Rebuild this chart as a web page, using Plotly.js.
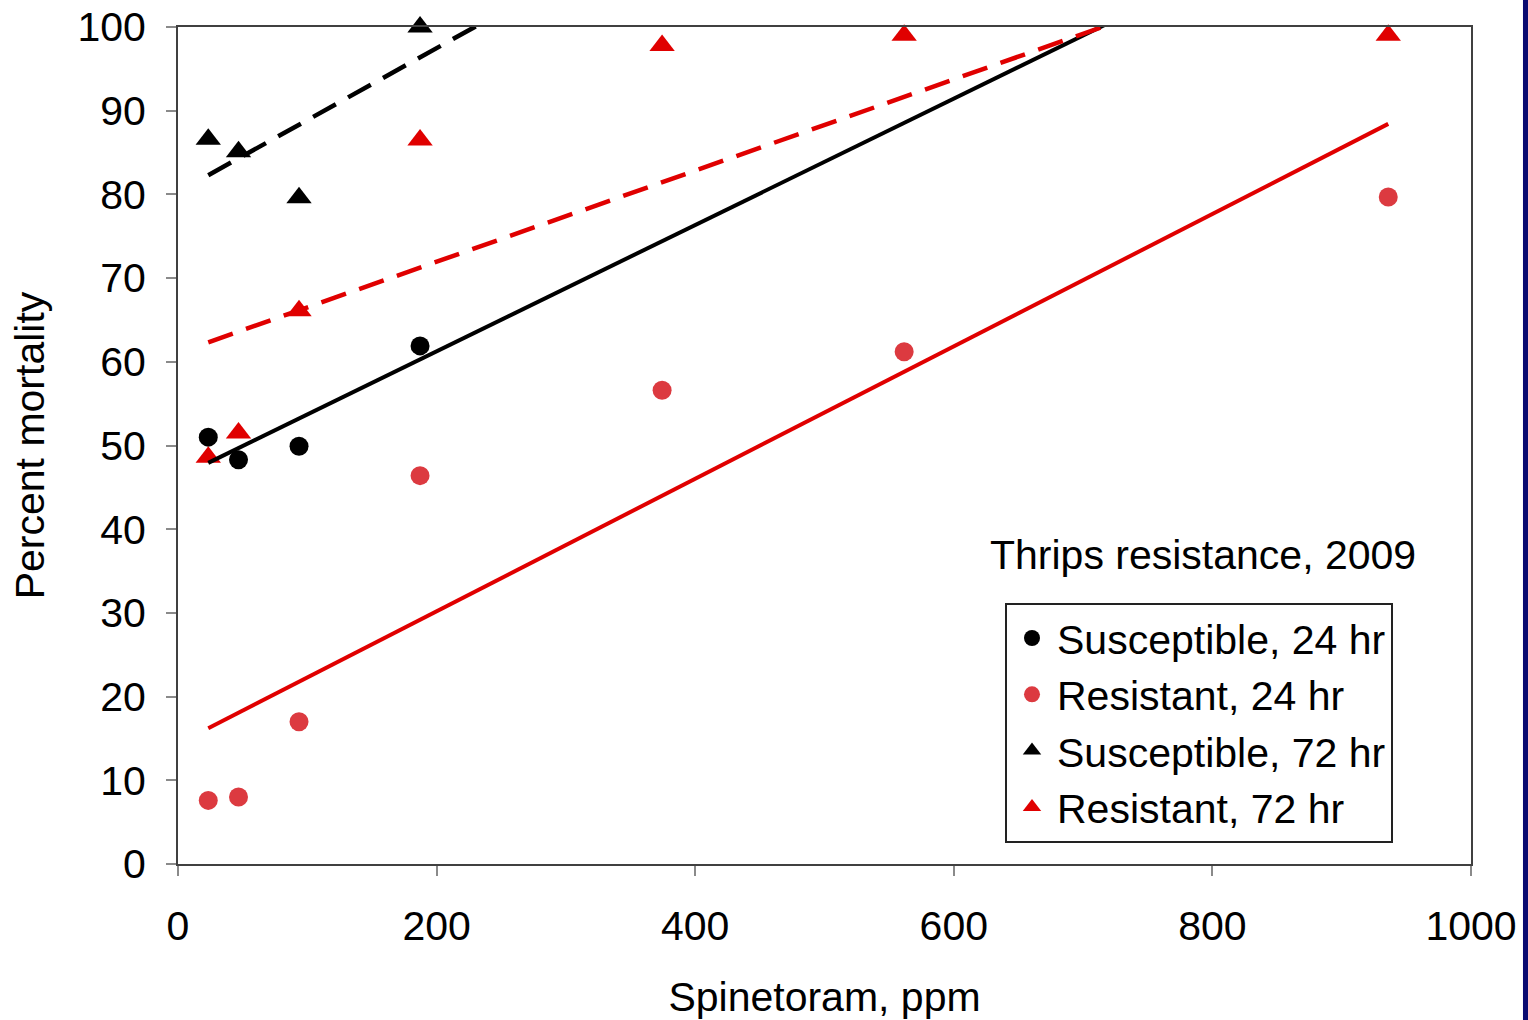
<!DOCTYPE html>
<html>
<head>
<meta charset="utf-8">
<script src="https://cdn.plot.ly/plotly-3.0.1.min.js"></script>
<style>html,body{margin:0;padding:0;background:#fff;}#chart{width:1528px;height:1020px;}</style>
</head>
<body>
<div id="chart"></div>
<script>
// Doses (ppm)
const dosesS = [23.4, 46.8, 93.6, 187.2];
const dosesR = [23.4, 46.8, 93.6, 187.2, 374.4, 561.6, 936];
// Percent mortality
const suscept24 = [51.0, 48.3, 49.9, 61.9];
const resist24 = [7.6, 8.0, 17.0, 46.4, 56.6, 61.2, 79.7];
const suscept72 = [86.6, 85.1, 79.6, 100];
const resist72 = [48.6, 51.5, 66.1, 86.5, 97.8, 99.0, 99.0];
const seriesNames = ['Susceptible, 24 hr', 'Resistant, 24 hr', 'Susceptible, 72 hr', 'Resistant, 72 hr'];
const xTicks = [0, 200, 400, 600, 800, 1000];
const yTicks = [0, 10, 20, 30, 40, 50, 60, 70, 80, 90, 100];
const trendRange = [23.4, 936];

function linfit(x, y) {
  const n = x.length;
  const mx = x.reduce((a, b) => a + b, 0) / n;
  const my = y.reduce((a, b) => a + b, 0) / n;
  let sxy = 0, sxx = 0;
  for (let i = 0; i < n; i++) { sxy += (x[i] - mx) * (y[i] - my); sxx += (x[i] - mx) * (x[i] - mx); }
  const b = sxy / sxx, a = my - b * mx;
  return { x: trendRange.slice(), y: trendRange.map(v => a + b * v) };
}

const BLACK = '#000000';
const RED_C = '#dc3a40';
const RED = '#e00000';
const font = 'Liberation Sans, Arial, sans-serif';

const f1 = linfit(dosesS, suscept24);
const f2 = linfit(dosesR, resist24);
const f3 = linfit(dosesS, suscept72);
const f4 = linfit(dosesR, resist72);

const traces = [
  {x: dosesS, y: suscept24, name: seriesNames[0], mode: 'markers', type: 'scatter', cliponaxis: false,
   marker: {symbol: 'circle', size: 19, color: BLACK}},
  {x: dosesR, y: resist24, name: seriesNames[1], mode: 'markers', type: 'scatter', cliponaxis: false,
   marker: {symbol: 'circle', size: 19, color: RED_C}},
  {x: dosesS, y: suscept72, name: seriesNames[2], mode: 'markers', type: 'scatter', cliponaxis: false,
   marker: {symbol: 'triangle-up', size: 22, color: BLACK}},
  {x: dosesR, y: resist72, name: seriesNames[3], mode: 'markers', type: 'scatter', cliponaxis: false,
   marker: {symbol: 'triangle-up', size: 22, color: RED}},
  {x: f1.x, y: f1.y, mode: 'lines', showlegend: false, hoverinfo: 'skip', line: {color: BLACK, width: 4}},
  {x: f2.x, y: f2.y, mode: 'lines', showlegend: false, hoverinfo: 'skip', line: {color: RED, width: 4}},
  {x: f3.x, y: f3.y, mode: 'lines', showlegend: false, hoverinfo: 'skip', line: {color: BLACK, width: 4.5, dash: '26px,14px'}},
  {x: f4.x, y: f4.y, mode: 'lines', showlegend: false, hoverinfo: 'skip', line: {color: RED, width: 4.5, dash: '26px,14px'}}
];

const layout = {
  width: 1528, height: 1020,
  margin: {l: 178, r: 57, t: 27, b: 156},
  paper_bgcolor: '#ffffff', plot_bgcolor: '#ffffff',
  font: {family: font, color: '#000', size: 41},
  showlegend: true,
  xaxis: {
    range: [0, 1000], tickvals: xTicks, ticktext: xTicks.map(String),
    ticks: 'outside', ticklen: 10, tickwidth: 2, tickcolor: '#8a8a8a',
    showline: true, linecolor: '#404040', linewidth: 2, mirror: true,
    showgrid: false, zeroline: false, ticklabelstandoff: 15,
    tickfont: {size: 41, family: font, color: '#000'},
    title: {text: 'Spinetoram, ppm', font: {size: 41, family: font, color: '#000'}, standoff: 36}
  },
  yaxis: {
    range: [0, 100], tickvals: yTicks, ticktext: yTicks.map(String),
    ticks: 'outside', ticklen: 10, tickwidth: 2, tickcolor: '#8a8a8a',
    showline: true, linecolor: '#404040', linewidth: 2, mirror: true,
    showgrid: false, zeroline: false, ticklabelstandoff: 12,
    tickfont: {size: 41, family: font, color: '#000'},
    title: {text: 'Percent mortality', font: {size: 41, family: font, color: '#000'}, standoff: 20}
  },
  legend: {
    x: 0.6396, y: 0.312, xanchor: 'left', yanchor: 'top',
    bgcolor: '#ffffff', bordercolor: '#222', borderwidth: 2, itemwidth: 40,
    font: {size: 41, family: font, color: '#000'}, tracegroupgap: 0
  },
  annotations: [{
    xref: 'paper', yref: 'paper', x: 0.6265, y: 0.3692, xanchor: 'left', yanchor: 'middle',
    text: 'Thrips resistance, 2009', showarrow: false,
    font: {size: 41, family: font, color: '#000'}
  }],
  shapes: [{
    type: 'rect', xref: 'paper', yref: 'paper', x0: 1.0402, x1: 1.08, y0: -0.3, y1: 1.1,
    fillcolor: '#0a0a70', line: {width: 0}, layer: 'above'
  }]
};

Plotly.newPlot('chart', traces, layout, {displayModeBar: false, staticPlot: true});
</script>
</body>
</html>
